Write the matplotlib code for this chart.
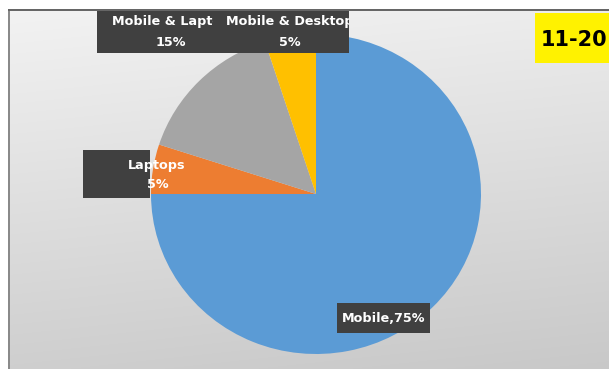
import numpy as np
import matplotlib
matplotlib.use("Agg")
import matplotlib.pyplot as plt
from matplotlib.patches import Rectangle
from matplotlib.transforms import Bbox, TransformedBbox

# Device usage shares
categories = ["Mobile", "Laptops", "Mobile & Laptop", "Mobile & Desktop"]
shares = [75, 5, 15, 5]
slice_colors = ["#5B9BD5", "#ED7D31", "#A5A5A5", "#FFC000"]
period_label = "11-20"

W, H = 609, 369
fig = plt.figure(figsize=(W / 100, H / 100), dpi=100)
fig.patch.set_facecolor("white")

# Background layer in pixel coordinates
bg = fig.add_axes([0, 0, 1, 1], zorder=0)
bg.set_xlim(0, W)
bg.set_ylim(H, 0)
bg.axis("off")
yy, xx = np.mgrid[0:H, 0:W]
grad = 0.95 - 0.14 * (yy / H) - 0.025 * (xx / W)
img = np.dstack([grad, grad, grad])
bg.imshow(img, extent=(10, W, H, 11), aspect="auto", zorder=0)
bg.add_patch(Rectangle((7.5, 10), 2.5, H, color="#8a8a8a", lw=0, zorder=1))
bg.add_patch(Rectangle((7.5, 8.8), W, 2.4, color="#666666", lw=0, zorder=1))
label_box = "#404040"
bg.add_patch(Rectangle((83, 150), 67, 48, color=label_box, lw=0, zorder=2))

# Pie layer (slightly elliptical as in the rendered sheet)
cx, cy, rx, ry = 316, 194, 165, 160
pax = fig.add_axes([(cx - rx) / W, (H - (cy + ry)) / H, 2 * rx / W, 2 * ry / H], zorder=1)
pax.pie(shares, colors=slice_colors, startangle=90, counterclock=False,
        radius=1, wedgeprops=dict(linewidth=0))
pax.set_aspect("auto")
pax.set_xlim(-1, 1)
pax.set_ylim(-1, 1)
pax.axis("off")

# Overlay layer: label boxes and texts
ov = fig.add_axes([0, 0, 1, 1], zorder=2)
ov.set_xlim(0, W)
ov.set_ylim(H, 0)
ov.axis("off")
ov.patch.set_alpha(0)

lbl_font = dict(color="white", fontweight="bold", fontsize=9.2,
                family="DejaVu Sans", ha="center", va="center")

def pct(v):
    return f"{v}%"

def clipped_label(x0, x1, xc, name, value):
    ov.add_patch(Rectangle((x0, 11), x1 - x0, 42, color=label_box, lw=0))
    clip = TransformedBbox(Bbox([[x0, 11], [x1, 53]]), ov.transData)
    for y, s in ((22, name), (43, value)):
        t = ov.text(xc, y, s, **lbl_font)
        t.set_clip_on(True)
        t.set_clip_box(clip)

# Top labels sit side by side and cut each other's text
clipped_label(97, 213, 171, categories[2], pct(shares[2]))
clipped_label(213, 349, 290, categories[3], pct(shares[3]))

# Laptops label
ov.text(157, 165, categories[1], **lbl_font)
ov.text(158, 185, pct(shares[1]), **lbl_font)

# Mobile label
ov.add_patch(Rectangle((337, 303), 93, 30, color=label_box, lw=0))
ov.text(383.5, 318, f"{categories[0]},{pct(shares[0])}", **lbl_font)

# Period tag
ov.add_patch(Rectangle((535, 13), 80, 50, color="#FFF200", lw=0))
ov.text(574, 40, period_label, color="black", fontweight="bold", fontsize=15,
        family="DejaVu Sans", ha="center", va="center")

fig.savefig("out.png", dpi=100)
